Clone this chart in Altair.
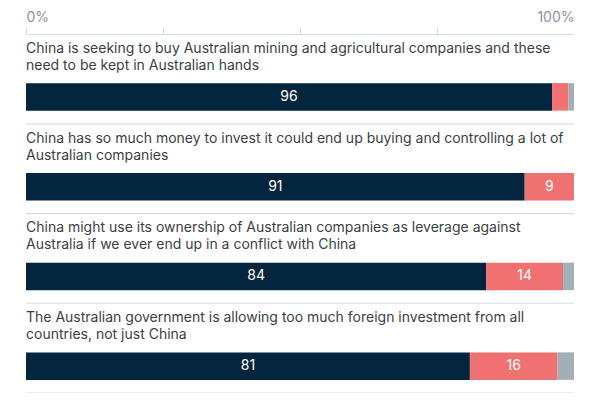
import altair as alt
import pandas as pd

questions = [
    "China is seeking to buy Australian mining and agricultural companies and these\nneed to be kept in Australian hands",
    "China has so much money to invest it could end up buying and controlling a lot of\nAustralian companies",
    "China might use its ownership of Australian companies as leverage against\nAustralia if we ever end up in a conflict with China",
    "The Australian government is allowing too much foreign investment from all\ncountries, not just China",
]
agree = [96, 91, 84, 81]
disagree = [3, 9, 14, 16]
dontknow = [1, 0, 2, 3]

cats = ["Agree", "Disagree", "Don't know"]
colors = ["#03253d", "#f07171", "#a3afb6"]

rows = []
for i, q in enumerate(questions):
    start = 0
    for c, v in zip(cats, [agree[i], disagree[i], dontknow[i]]):
        rows.append({"q": q, "qi": i, "cat": c, "order": cats.index(c),
                     "value": v, "start": start, "end": start + v,
                     "mid": start + v / 2,
                     "label": str(v) if (v >= 5 and c != "Don't know") else ""})
        start += v
df = pd.DataFrame(rows)
qdf = pd.DataFrame({"q": questions})

W, H = 548, 359
FONT = "Inter"

yenc = alt.Y("q:N", sort=questions, axis=None,
             scale=alt.Scale(paddingInner=0, paddingOuter=0))

xscale = alt.Scale(domain=[0, 100])

bars = alt.Chart(df).mark_bar(size=27.5, yOffset=18).encode(
    x=alt.X("start:Q", scale=xscale,
            axis=alt.Axis(orient="top", values=[0, 25, 50, 75, 100],
                          labelExpr="datum.value == 0 || datum.value == 100 ? datum.value + '%' : ''",
                          labelFlush=True, grid=False, domainColor="#d5dde4",
                          tickColor="#d5dde4", tickSize=7, labelPadding=3,
                          labelColor="#8a949e", labelFontSize=14, labelFont=FONT,
                          title=None)),
    x2="end:Q",
    y=yenc,
    color=alt.Color("cat:N", scale=alt.Scale(domain=cats, range=colors), legend=None),
)

vals = alt.Chart(df).mark_text(yOffset=18, color="white", fontSize=14, font=FONT).encode(
    x=alt.X("mid:Q", scale=xscale),
    y=yenc,
    text="label:N",
)

qlabels = alt.Chart(qdf).mark_text(align="left", baseline="top", yOffset=-37,
                                   lineBreak="\n", lineHeight=17, fontSize=14,
                                   font=FONT, color="#3a3f44").encode(
    x=alt.value(0),
    y=yenc,
    text="q:N",
)

seps = alt.Chart(qdf).mark_rule(color="#d5dde4", strokeWidth=1.2, yOffset=44.9).encode(
    x=alt.value(0), x2=alt.value(W), y=yenc,
)

chart = alt.layer(seps, bars, vals, qlabels).properties(
    width=W, height=H,
    autosize=alt.AutoSizeParams(type="none"),
    padding={"left": 18, "top": 26, "right": 0, "bottom": 0},
).configure_view(stroke=None)

chart.save("out.html", embed_options={"renderer": "svg", "actions": False})
